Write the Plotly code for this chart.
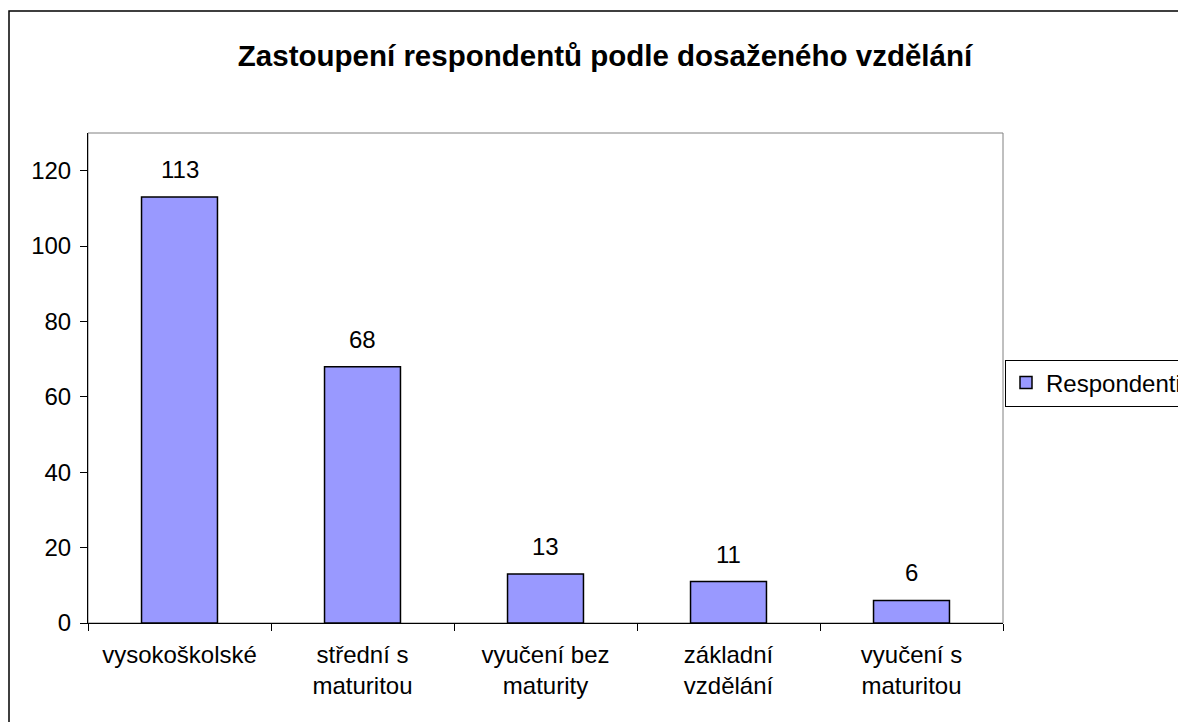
import plotly.graph_objects as go

categories = ["vysokoškolské", "střední s maturitou", "vyučení bez maturity", "základní vzdělání", "vyučení s maturitou"]
tick_labels = ["vysokoškolské", "střední s<br>maturitou", "vyučení bez<br>maturity", "základní<br>vzdělání", "vyučení s<br>maturitou"]
respondenti = [113, 68, 13, 11, 6]
series_name = "Respondenti"
title_text = "Zastoupení respondentů podle dosaženého vzdělání"

# the page body has an 8px margin, so the figure is drawn at (8, 8)
OFF = 8
W, H = 1186 - OFF, 722 - OFF
L, R, T, B = 88 - OFF, 1003 - OFF, 133 - OFF, 623 - OFF
pw, ph = R - L, B - T

font = "Liberation Sans, Arial, sans-serif"
fs = 24

fig = go.Figure()
fig.add_trace(go.Bar(
    x=categories, y=respondenti, name=series_name,
    marker=dict(color="#9999FF", line=dict(color="black", width=1.5)),
    showlegend=True,
))

for c, v in zip(categories, respondenti):
    fig.add_annotation(x=c, y=v, text=str(v), showarrow=False, yanchor="bottom",
                       yshift=12, font=dict(size=fs, family=font, color="black"))

fig.update_layout(
    width=W, height=H,
    margin=dict(l=L, r=W - R, t=T, b=H - B, autoexpand=False),
    paper_bgcolor="white", plot_bgcolor="white",
    font=dict(family=font, size=fs, color="black"),
    bargap=0.585,
    showlegend=True,
    title=dict(text="<b>" + title_text + "</b>", x=(605 - OFF) / W, xref="container", xanchor="center",
               y=1 - (56 - OFF) / H, yref="container", yanchor="middle",
               font=dict(size=29.5, family=font, color="black")),
    legend=dict(x=(1005 - OFF - L) / pw, xanchor="left", y=(B - (383 - OFF)) / ph, yanchor="middle",
                bordercolor="black", borderwidth=1, bgcolor="white",
                font=dict(size=fs, family=font, color="black"), itemwidth=30),
    xaxis=dict(tickmode="array", tickvals=categories, ticktext=tick_labels,
               tickson="boundaries", ticks="outside", ticklen=7, tickcolor="black",
               showline=True, linecolor="black", linewidth=1, showgrid=False,
               ticklabelstandoff=10,
               tickfont=dict(size=fs, family=font, color="black")),
    yaxis=dict(range=[0, 130], dtick=20, tick0=0, ticks="outside", ticklen=7, tickcolor="black",
               showline=True, linecolor="black", linewidth=1, showgrid=False, zeroline=False,
               ticklabelstandoff=4,
               tickfont=dict(size=fs, family=font, color="black")),
    shapes=[
        dict(type="rect", xref="paper", yref="paper", x0=0, x1=1, y0=0, y1=1,
             line=dict(color="#808080", width=1), layer="below"),
        dict(type="rect", xref="paper", yref="paper",
             x0=(9 - OFF - L) / pw, x1=(W + 10 - L) / pw, y0=(B - (H + 10)) / ph, y1=(B - (11 - OFF)) / ph,
             line=dict(color="black", width=1.5), layer="below"),
    ],
)

fig.write_html("out.html")
